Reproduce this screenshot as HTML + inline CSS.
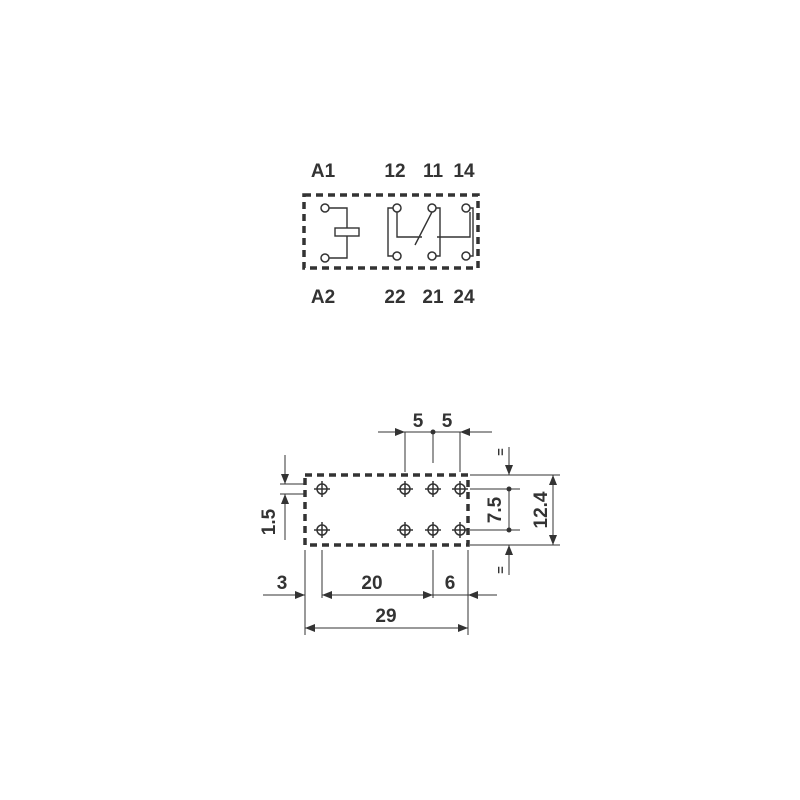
<!DOCTYPE html>
<html><head><style>body{margin:0;background:#fff}svg{display:block}text{font-family:"Liberation Sans",sans-serif;font-weight:bold;fill:#333;font-size:19px}</style></head>
<body>
<svg width="800" height="800" viewBox="0 0 800 800">
<defs><marker id="a" markerWidth="10" markerHeight="8" refX="10" refY="4" orient="auto" markerUnits="userSpaceOnUse"><path d="M0,0 L10,4 L0,8z" fill="#333"/></marker></defs>
<g stroke="#333" fill="none">
<!-- schematic -->
<rect x="304" y="195" width="174" height="73" stroke-width="3.5" stroke-dasharray="7,5"/>
<g stroke-width="1.4">
<path d="M329,208H347V258H329"/>
<rect x="335" y="228" width="24" height="8" fill="#fff"/>
<path d="M393,208H388V256H393"/>
<path d="M397,212V237H422M415,245L432,212"/>
<path d="M436,208H440V256H436"/>
<path d="M437,237H470V212"/>
<path d="M470,208H473V256H470"/>
</g>
<g stroke-width="1.5" fill="#fff">
<circle cx="325" cy="208" r="4"/><circle cx="325" cy="258" r="4"/>
<circle cx="397" cy="208" r="4"/><circle cx="432" cy="208" r="4"/><circle cx="466" cy="208" r="4"/>
<circle cx="397" cy="256" r="4"/><circle cx="432" cy="256" r="4"/><circle cx="466" cy="256" r="4"/>
</g>
<!-- footprint -->
<rect x="305" y="475" width="163" height="70" stroke-width="3.5" stroke-dasharray="7,5"/>
<g stroke-width="1.5">
<circle cx="322" cy="489" r="5"/><circle cx="405" cy="489" r="5"/><circle cx="433" cy="489" r="5"/><circle cx="460" cy="489" r="5"/>
<circle cx="322" cy="530" r="5"/><circle cx="405" cy="530" r="5"/><circle cx="433" cy="530" r="5"/><circle cx="460" cy="530" r="5"/>
<path d="M314,489h16M322,481v16M397,489h16M405,481v16M425,489h16M433,481v16M452,489h16M460,481v16M314,530h16M322,522v16M397,530h16M405,522v16M425,530h16M433,522v16M452,530h16M460,522v16"/>
</g>
<g stroke-width="1">
<path d="M378,432H405" marker-end="url(#a)"/><path d="M492,432H460" marker-end="url(#a)"/>
<path d="M405,432H460M405,432V472M433,432V463M460,432V472"/>
<path d="M470,475H560M470,545H560M470,489H520M470,530H520M509,489V530"/>
<path d="M509,447V475" marker-end="url(#a)"/><path d="M509,575V545" marker-end="url(#a)"/>
<path d="M553,510V475" marker-end="url(#a)"/><path d="M553,510V545" marker-end="url(#a)"/>
<path d="M280,484H305M280,494H305"/>
<path d="M285,455V484" marker-end="url(#a)"/><path d="M285,540V494" marker-end="url(#a)"/>
<path d="M305,550V635M322,550V598M433,550V598M468,550V635"/>
<path d="M263,595H305" marker-end="url(#a)"/><path d="M378,595H322" marker-end="url(#a)"/><path d="M378,595H433" marker-end="url(#a)"/><path d="M497,595H468" marker-end="url(#a)"/>
<path d="M433,595H468"/>
<path d="M386,628H305" marker-end="url(#a)"/><path d="M386,628H468" marker-end="url(#a)"/>
</g>
</g>
<g fill="#333"><circle cx="433" cy="432" r="2.5"/><circle cx="509" cy="489" r="2.5"/><circle cx="509" cy="530" r="2.5"/></g>
<text x="323" y="177" text-anchor="middle">A1</text>
<text x="395" y="177" text-anchor="middle">12</text>
<text x="433" y="177" text-anchor="middle">11</text>
<text x="464" y="177" text-anchor="middle">14</text>
<text x="323" y="303" text-anchor="middle">A2</text>
<text x="395" y="303" text-anchor="middle">22</text>
<text x="433" y="303" text-anchor="middle">21</text>
<text x="464" y="303" text-anchor="middle">24</text>
<text x="418" y="427" text-anchor="middle">5</text>
<text x="447" y="427" text-anchor="middle">5</text>
<text x="282" y="589" text-anchor="middle">3</text>
<text x="372" y="589" text-anchor="middle">20</text>
<text x="450" y="589" text-anchor="middle">6</text>
<text x="386" y="622" text-anchor="middle">29</text>
<text transform="translate(275,522) rotate(-90)" text-anchor="middle">1.5</text>
<text transform="translate(501,510) rotate(-90)" text-anchor="middle">7.5</text>
<text transform="translate(547,510) rotate(-90)" text-anchor="middle">12.4</text>
<text transform="translate(505,452) rotate(-90)" text-anchor="middle" style="font-size:13px">=</text>
<text transform="translate(505,570) rotate(-90)" text-anchor="middle" style="font-size:13px">=</text>
</svg>
</body></html>
